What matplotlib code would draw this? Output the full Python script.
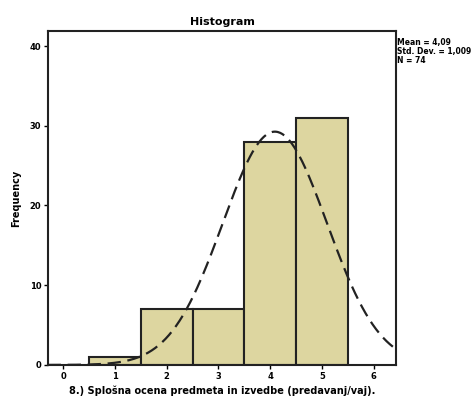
import numpy as np
import matplotlib
matplotlib.use("Agg")
import matplotlib.pyplot as plt

# data
scores = [1, 2, 3, 4, 5]
counts = [1, 7, 7, 28, 31]
mean = 4.09
std_dev = 1.009
n = 74

fig = plt.figure(figsize=(4.72, 4.01), dpi=100)
ax = fig.add_axes([0.102, 0.09, 0.737, 0.833])

ax.bar(scores, counts, width=1.0, color="#ddd6a0", edgecolor="#222222", linewidth=1.5)

# fitted normal curve
xs = np.linspace(-0.3, 6.45, 300)
ys = n * 1.0 / (std_dev * np.sqrt(2 * np.pi)) * np.exp(-0.5 * ((xs - mean) / std_dev) ** 2)
ax.plot(xs, ys, color="#222222", lw=1.6, ls=(0, (6, 3)))

ax.set_xlim(-0.29, 6.43)
ax.set_ylim(0, 41.9)
ax.set_xticks(range(7))
ax.set_yticks([0, 10, 20, 30, 40])
ax.tick_params(labelsize=6, length=3, width=1, pad=2)
for lab in ax.get_xticklabels() + ax.get_yticklabels():
    lab.set_fontweight("bold")
for sp in ax.spines.values():
    sp.set_linewidth(1.5)
    sp.set_color("#222222")

ax.set_title("Histogram", fontsize=8, fontweight="bold", pad=4)
ax.set_ylabel("Frequency", fontsize=7, fontweight="bold", labelpad=6)
ax.set_xlabel("8.) Splošna ocena predmeta in izvedbe (predavanj/vaj).", fontsize=7, fontweight="bold", labelpad=3)

fig.text(0.842, 0.905, f"Mean = 4,09\nStd. Dev. = 1,009\nN = {n}", fontsize=5.5,
         fontweight="bold", va="top", ha="left", linespacing=1.0)

fig.savefig("out.png", dpi=100)
